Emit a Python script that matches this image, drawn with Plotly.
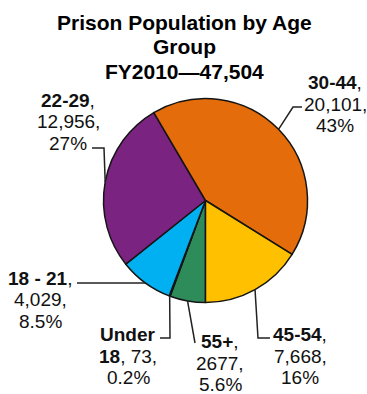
import math
import plotly.graph_objects as go

# Prison population by age group, FY2010
groups = ["55+", "Under 18", "18 - 21", "22-29", "30-44", "45-54"]
counts = [2677, 73, 4029, 12956, 20101, 7668]
count_labels = ["2677", "73", "4,029", "12,956", "20,101", "7,668"]
pct_labels = ["5.6%", "0.2%", "8.5%", "27%", "43%", "16%"]
colors = ["#2E8B5A", "#2E8B5A", "#00B0F0", "#7B2380", "#E46C0A", "#FFC000"]

W, H = 367, 394
CX, CY, R = 205.5, 200.5, 102.0   # pie centre and radius in pixels
FONT = "Liberation Sans, Arial, sans-serif"
LINE_GAP = 21.5

# label block centre x and first-line cap-centre y (pixels)
label_pos = {
    "55+": (220, 340),
    "Under 18": (128, 333),
    "18 - 21": (40, 276.5),
    "22-29": (68, 99),
    "30-44": (335, 81),
    "45-54": (300, 333),
}
# leader line bend/end points after leaving the slice (pixels)
leader_tail = {
    "55+": [(195, 343)],
    "Under 18": [(170, 338), (160, 338)],
    "18 - 21": [(77, 283)],
    "22-29": [(104, 148), (92, 148)],
    "30-44": [(293, 107), (302, 107)],
    "45-54": [(258, 338), (270, 338)],
}


def px(x, y):
    return x / W, 1 - y / H


fig = go.Figure(go.Pie(
    labels=groups,
    values=counts,
    sort=False,
    direction="clockwise",
    rotation=180,
    marker=dict(colors=colors, line=dict(color="#151515", width=1.5)),
    textinfo="none",
    hoverinfo="label+value+percent",
    domain=dict(x=[(CX - R) / W, (CX + R) / W],
                y=[1 - (CY + R) / H, 1 - (CY - R) / H]),
    showlegend=False,
))

annotations = []
shapes = []

# title lines
title_lines = ["Prison Population by Age", "Group", f"FY2010\u2014{sum(counts):,}"]
for i, t in enumerate(title_lines):
    x, y = px(184, 21 + 24.5 * i + 1.5)
    annotations.append(dict(text=f"<b>{t}</b>", x=x, y=y, xref="paper", yref="paper",
                            showarrow=False, xanchor="center", yanchor="middle",
                            font=dict(family=FONT, size=21, color="#000000")))

total = sum(counts)
cum = 0
for g, v, cl, pl in zip(groups, counts, count_labels, pct_labels):
    mid = (cum + v / 2) / total * 2 * math.pi
    cum += v
    sx = CX - R * math.sin(mid)
    sy = CY + R * math.cos(mid)
    pts = [(sx, sy)] + leader_tail[g]
    path = "M " + " L ".join(f"{px(a, b)[0]:.5f},{px(a, b)[1]:.5f}" for a, b in pts)
    shapes.append(dict(type="path", path=path, xref="paper", yref="paper",
                       line=dict(color="#222222", width=1.5)))

    if g.startswith("Under"):
        first, rest = g.split(" ", 1)
        lines = [f"<b>{first}</b>", f"<b>{rest}</b>, {cl},", pl]
    else:
        lines = [f"<b>{g}</b>,", f"{cl},", pl]
    lx, ly = label_pos[g]
    for j, t in enumerate(lines):
        x, y = px(lx, ly + LINE_GAP * j + 1.5)
        annotations.append(dict(text=t, x=x, y=y, xref="paper", yref="paper",
                                showarrow=False, xanchor="center", yanchor="middle",
                                font=dict(family=FONT, size=19, color="#111111")))

fig.update_layout(
    width=W, height=H,
    margin=dict(l=0, r=0, t=0, b=0),
    paper_bgcolor="white",
    plot_bgcolor="white",
    annotations=annotations,
    shapes=shapes,
)

fig.write_html("out.html")
